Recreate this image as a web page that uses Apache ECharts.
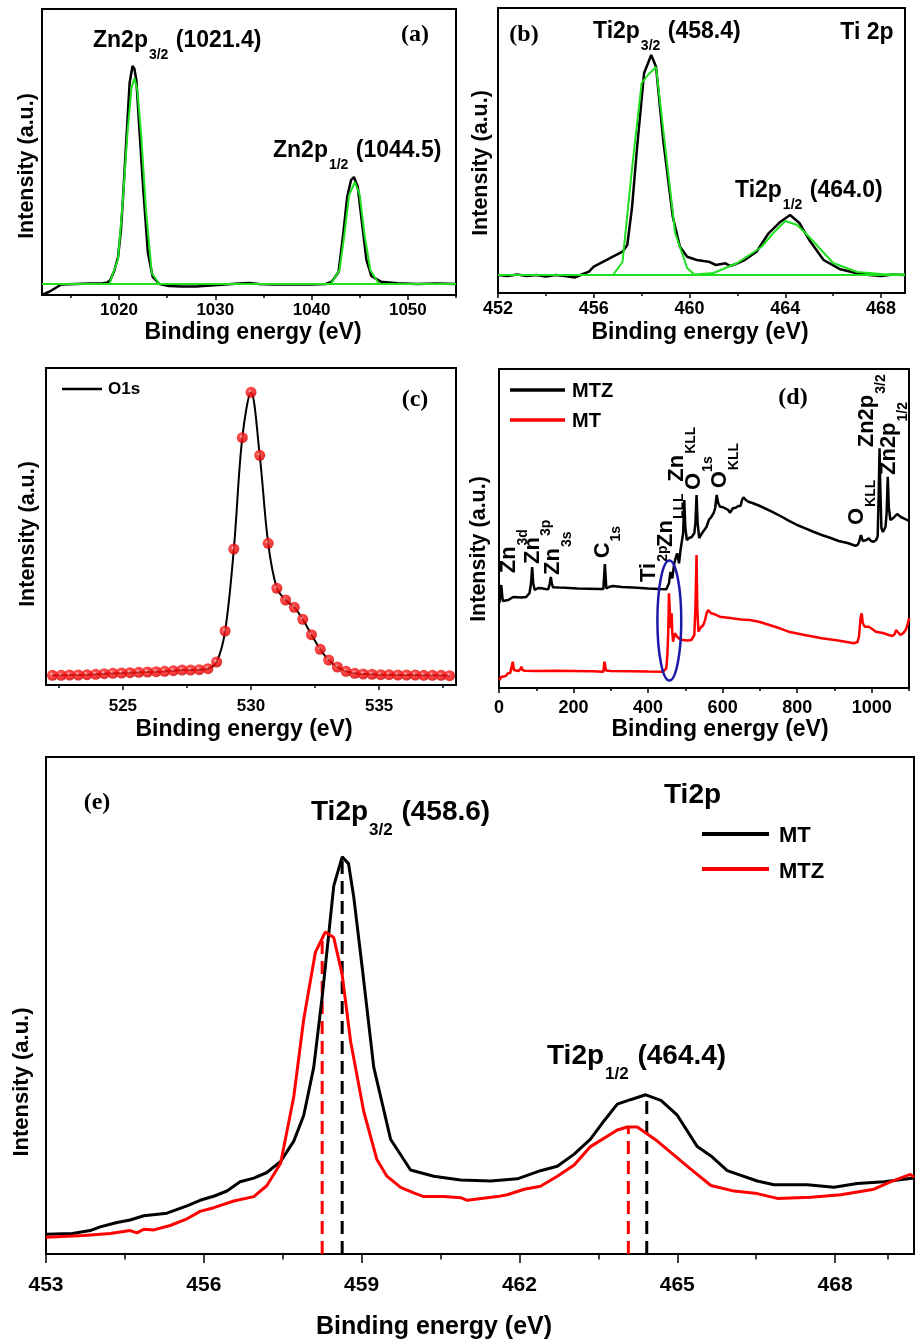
<!DOCTYPE html>
<html><head><meta charset="utf-8">
<script src="https://cdn.jsdelivr.net/npm/echarts@6.0.0/dist/echarts.min.js"></script>
<style>html,body{margin:0;padding:0;background:#fff}#chart{width:917px;height:1341px}</style>
</head><body><div id="chart"></div>
<script>
// ---------------- DATA ----------------
// (a) Zn 2p
const aMeasured = [[1012.0,0],[1012.8,3.5],[1014.0,10.5],[1015.5,11],[1017,11.5],[1018.2,11.5],[1018.8,12.5],[1019.1,15],[1019.5,24],[1019.9,38],[1020.2,65],[1020.4,95],[1020.8,162],[1021.1,212],[1021.4,229],[1021.6,226],[1021.8,215],[1022.1,168],[1022.5,108],[1023.0,42],[1023.5,18],[1024.2,11],[1025.2,9],[1026.5,8.5],[1028,8.5],[1029.5,9.5],[1031,10.5],[1032.5,11.5],[1033.5,12],[1034.5,11],[1036,10.5],[1038,10.5],[1040,10.5],[1041.5,11],[1042.1,13.3],[1042.8,23],[1043.3,62],[1043.7,98],[1044.1,115],[1044.4,118],[1044.8,108],[1045.2,75],[1045.7,35],[1046.2,19],[1047.2,13.3],[1048.9,11.7],[1051,11],[1053,11.5],[1055,11]];
const aFit1 = [[1019.0,11],[1019.9,36],[1020.4,95],[1020.9,165],[1021.3,207],[1021.6,217],[1021.9,205],[1022.3,160],[1022.8,85],[1023.4,22],[1024.2,11]];
const aFit2 = [[1042.0,11],[1042.9,25],[1043.4,60],[1043.9,100],[1044.5,113],[1045.0,100],[1045.5,60],[1046.1,25],[1047.0,11]];
const aBase = [[1012,11],[1055,11]];
const aTickLabels = [1020,1030,1040,1050];
const aMinorTicks = [1015,1025,1035,1045,1055];

// (b) Ti 2p
const bMeasured = [[452.0,18],[452.4,17],[452.8,18.5],[453.2,17],[453.6,18],[454.0,16.5],[454.4,18],[454.8,17],[455.2,15.5],[455.5,18.5],[455.8,21.3],[456.0,26.3],[456.4,31.3],[456.8,36.3],[457.2,41.3],[457.4,48],[457.6,86],[457.8,143],[458.1,219.7],[458.4,238],[458.6,226.3],[458.9,153],[459.3,76.3],[459.6,46.3],[459.9,36.3],[460.3,33],[460.8,31.3],[461.1,28],[461.5,29.7],[461.7,27],[462.0,29.7],[462.3,33],[462.8,41.3],[463.3,59.7],[463.8,71.3],[464.2,78],[464.6,69.7],[465.0,53],[465.6,33],[466.3,23.7],[467.0,19.7],[467.5,18],[468.0,17],[468.5,18.5],[469.0,18]];
const bFit1 = [[456.8,18],[457.2,31],[457.6,125],[458.0,210],[458.3,219],[458.6,226],[459.0,143],[459.4,60],[459.9,25],[460.2,18.5]];
const bFit2 = [[460.2,18.5],[461.0,20],[462.0,30],[463.0,46],[463.5,60],[464.0,72],[464.5,68],[465.0,56],[466.0,30],[467.0,21],[468.0,19],[469.0,18.5]];
const bBase = [[452,18],[469,18]];
const bTickLabels = [452,456,460,464,468];
const bMinorTicks = [454,458,462,466];

// (c) O 1s
const cPoints = [[522.25,9.7],[522.59,9.7],[522.92,10.0],[523.26,10.0],[523.60,10.3],[523.94,10.7],[524.27,11.3],[524.61,11.7],[524.95,12.0],[525.28,12.3],[525.62,12.7],[525.96,13.0],[526.30,13.3],[526.63,13.7],[526.97,14.3],[527.31,15.0],[527.64,15.0],[527.98,15.3],[528.32,16.3],[528.66,23.0],[528.99,54.0],[529.33,136.0],[529.66,247.3],[530.00,292.7],[530.34,229.7],[530.67,141.7],[531.01,96.7],[531.35,85.0],[531.69,77.7],[532.02,65.7],[532.36,50.3],[532.70,35.7],[533.03,25.0],[533.37,18.0],[533.71,13.7],[534.05,11.7],[534.38,11.0],[534.72,10.7],[535.06,10.3],[535.39,10.3],[535.73,10.0],[536.07,10.0],[536.41,10.0],[536.74,9.7],[537.08,9.7],[537.42,9.7],[537.75,9.3]];
const cTickLabels = [525,530,535];
const cMinorTicks = [522.5,527.5,532.5,537.5];

// (d) survey
const dMTZ = [[1,85],[6,103],[10,87],[15,86],[25,88],[38,91],[60,90.5],[73,91],[82,95],[86,105],[89,121],[92,104],[96,98],[105,100],[114,99.7],[125,99],[132,98.7],[136,104],[139,111],[142,104],[145,100.7],[160,100.5],[177,100.3],[210,99.5],[239,99.3],[270,99],[280,99],[284,124],[288,99.5],[295,101],[306,102],[330,101],[360,100.5],[400,99.5],[430,99],[449,98.7],[456,104.7],[460,116],[465,109.7],[470,124],[474,130],[478,134.7],[483,124.7],[487,138],[494,154.7],[497,188],[500,160],[504,148],[510,150],[517,151],[524,154.7],[527,165],[530,193],[533,165],[537,150],[545,155],[550,157],[557,161.3],[563,168],[570,171.3],[576,175],[580,180],[584,193],[588,185],[593,181.3],[600,181],[607,179.7],[615,178],[620,175.3],[628,180],[634,180],[642,182],[648,182],[652,188],[656,190.7],[662,188],[669,186.3],[680,185],[700,182],[732,176.3],[760,171],[777,167.3],[800,163],[822,159.7],[845,156],[866,153],[890,150],[911,147],[935,145],[956,142.3],[962,143],[966,146],[971,153],[976,147],[981,145.3],[986,148],[992,149.7],[998,147],[1005,146.3],[1012,148],[1016,152],[1019,200],[1021,239.7],[1023,200],[1026,160],[1030,156],[1037,161.3],[1040,175],[1043,211.3],[1046,180],[1050,168],[1058,170],[1068,174],[1078,171],[1086,169.7],[1095,168],[1100,167]];
const dMT = [[1,8],[6,11],[11,13],[18,12],[24,14.7],[30,15],[35,16],[37,26.3],[40,18],[44,16.3],[52,17],[58,19],[60,21.3],[63,18],[69,17.3],[100,17],[150,17.3],[200,17],[250,16.7],[280,16.3],[283,26.3],[287,17.5],[300,17],[350,16.8],[400,16.5],[440,16.3],[449,19.7],[452,35],[454,55],[456,94.7],[458,80],[460,64.7],[461.5,60],[463,74.7],[465,55],[467,46.3],[470,52],[472,54.7],[478,51.3],[485,49],[494,48],[505,47.5],[516,48],[521,49],[524,53],[527,80],[530,133],[532,80],[535,56.3],[540,60],[548,63],[553,68],[557,74.7],[561,78],[564,79.7],[568,75],[573,73],[580,73.5],[592,71.3],[620,70],[650,68.5],[673,68],[700,66],[753,59.7],[777,56.3],[820,53],[866,49.7],[910,47.5],[952,44.7],[962,46],[966,52],[970,70],[973,74.7],[976,65],[981,61.3],[986,62],[992,61.3],[997,59.7],[1005,58],[1011,56.3],[1030,55],[1046,53],[1055,52],[1062,54],[1065,58],[1070,56],[1077,53],[1085,55],[1091,58],[1095,62],[1099,68],[1100,70]];
const dTickLabels = [0,200,400,600,800,1000];
const dMinorTicks = [100,300,500,700,900,1100];
const dPeakLabels = [
  ['Zn','3d',31,114.7],['Zn','3p',94,124],['Zn','3s',148,113],['C','1s',282,129.7],
  ['Ti','2p',407,106],['Zn','LLL',451,141],['Zn','KLL',481,206.3],['O','1s',527,198],
  ['O','KLL',597,199.7],['O','KLL',964,163],['Zn2p','3/2',992.5,240.7],['Zn2p','1/2',1050,213]
];
const dEllipse = [457, 67.5, 32, 60]; // centre E, centre I, half-width (eV), half-height (a.u.)

// (e) Ti 2p comparison
const eMT = [[453.0,19.7],[453.5,20.5],[453.84,23.4],[454.03,27.1],[454.35,31.5],[454.6,34],[454.86,38.2],[455.3,40.8],[455.68,48.2],[455.93,53.7],[456.2,58],[456.44,63],[456.69,72.2],[456.95,75.9],[457.2,81.5],[457.46,92.6],[457.71,112.9],[457.9,138.8],[458.09,186.9],[458.25,257.2],[458.47,368.2],[458.63,397.1],[458.75,390.4],[458.85,357.1],[459.01,286.8],[459.23,186.9],[459.55,114.8],[459.93,84],[460.37,77.8],[460.88,74.1],[461.45,73],[461.96,75.2],[462.4,83.3],[462.72,87.7],[463.04,99.9],[463.35,114.8],[463.61,133.3],[463.86,149.9],[464.11,154.3],[464.4,159.2],[464.69,153.6],[465.0,138.8],[465.38,107.4],[465.64,98.1],[465.95,83.3],[466.52,73],[466.84,69.2],[467.47,69.2],[467.98,66.7],[468.42,70.4],[468.93,72.2],[469.5,75.9]];
const eMTZ = [[453.0,16.7],[453.72,18.6],[454.22,20.4],[454.6,23.4],[454.73,21.1],[454.86,24.8],[455.05,24.1],[455.36,28.5],[455.68,35.2],[455.93,42.6],[456.19,46.3],[456.57,53],[456.95,57.4],[457.2,68.5],[457.46,90.7],[457.71,157.3],[457.9,235],[458.12,301.6],[458.31,322],[458.47,316.4],[458.63,279.4],[458.79,212.8],[459.04,142.5],[459.29,94.4],[459.48,77.8],[459.74,66.7],[459.99,61.1],[460.18,57.4],[460.56,57.4],[460.88,56.3],[461.01,53.7],[461.58,57.4],[461.77,59.3],[462.09,64.8],[462.4,67.8],[462.72,77.8],[463.04,88.9],[463.35,107.4],[463.86,124],[464.05,127],[464.24,127],[464.62,112.9],[464.87,101.8],[465.25,85.2],[465.64,68.5],[466.08,62.9],[466.52,60.4],[466.9,55.6],[467.54,56.7],[468.11,59.3],[468.74,64.8],[469.05,72.2],[469.43,79.6],[469.5,76.6]];
const ePeaksMT = [[458.63,397],[464.42,159]];
const ePeaksMTZ = [[458.25,318],[464.07,127]];
const eTickLabels = [453,456,459,462,465,468];
const eMinorTicks = [454.5,457.5,460.5,463.5,466.5,469];

// ---------------- CHART ----------------
const FF = '"Liberation Sans", Arial, Helvetica, sans-serif';
const SF = '"Liberation Serif", "Times New Roman", serif';
const GREEN = '#1ee01e', RED = '#ff0000', BLACK = '#000000';

const panels = [
  {grid:{left:42, top:9, width:414, height:286}, x:[1012,1055], yMax:286, labels:aTickLabels, minor:aMinorTicks, fs:17, margin:7, tl:5, tm:3},
  {grid:{left:498, top:8, width:407, height:285}, x:[452,469], yMax:285, labels:bTickLabels, minor:bMinorTicks, fs:18, margin:7, tl:5, tm:3},
  {grid:{left:46, top:368, width:410, height:317}, x:[522,538], yMax:317, labels:cTickLabels, minor:cMinorTicks, fs:17, margin:13, tl:5, tm:3},
  {grid:{left:499, top:369, width:410, height:319}, x:[0,1100], yMax:319, labels:dTickLabels, minor:dMinorTicks, fs:18, margin:11, tl:5, tm:3},
  {grid:{left:46, top:757, width:868, height:497}, x:[453,469.5], yMax:497, labels:eTickLabels, minor:eMinorTicks, fs:21, margin:21, tl:9, tm:5.5}
];

const grid = panels.map(p => Object.assign({show:true, borderColor:BLACK, borderWidth:2, backgroundColor:'transparent', containLabel:false}, p.grid));
const xAxis = [];
panels.forEach((p,i) => xAxis.push({
  gridIndex:i, type:'value', min:p.x[0], max:p.x[1], position:'bottom',
  axisLine:{show:true, onZero:false, lineStyle:{color:BLACK, width:2}},
  axisTick:{show:true, inside:false, length:p.tl, customValues:p.labels, lineStyle:{color:BLACK, width:1.5}},
  axisLabel:{show:true, customValues:p.labels, fontSize:p.fs, fontWeight:'bold', fontFamily:FF, color:BLACK, margin:p.margin,
    formatter:function(v){ return String(v); }},
  splitLine:{show:false}, minorTick:{show:false}
}));
panels.forEach((p,i) => xAxis.push({
  gridIndex:i, type:'value', min:p.x[0], max:p.x[1], position:'bottom',
  axisLine:{show:false, onZero:false},
  axisTick:{show:true, inside:false, length:p.tm, customValues:p.minor, lineStyle:{color:BLACK, width:1.5}},
  axisLabel:{show:false}, splitLine:{show:false}
}));
const yAxis = panels.map((p,i) => ({gridIndex:i, type:'value', min:0, max:p.yMax, show:false, splitLine:{show:false}}));

function line(i, data, color, width, extra) {
  return Object.assign({type:'line', xAxisIndex:i, yAxisIndex:i, data:data, symbol:'none', showSymbol:false,
    lineStyle:{color:color, width:width}, itemStyle:{color:color}, silent:true, animation:false, clip:true, z:2}, extra||{});
}
function vline(i, pk, color) {
  return line(i, [[pk[0],0],[pk[0],pk[1]]], color, 3, {lineStyle:{color:color, width:3, type:[13,7]}, z:1});
}

const series = [
  line(0, aMeasured, BLACK, 2.5),
  line(0, aBase, GREEN, 2, {z:3}),
  line(0, aFit1, GREEN, 2, {z:3}),
  line(0, aFit2, GREEN, 2, {z:3}),
  line(1, bMeasured, BLACK, 2.5),
  line(1, bBase, GREEN, 2, {z:3}),
  line(1, bFit1, GREEN, 2, {z:3}),
  line(1, bFit2, GREEN, 2, {z:3}),
  line(2, cPoints, BLACK, 2, {smooth:0.35, name:'O1s'}),
  {type:'scatter', xAxisIndex:2, yAxisIndex:2, data:cPoints, symbol:'circle', symbolSize:11, silent:true, animation:false, z:4,
    itemStyle:{color:{type:'radial', x:0.4, y:0.38, r:0.65, colorStops:[{offset:0,color:'#ffd8d8'},{offset:0.22,color:'#ff2a2a'},{offset:0.75,color:'#ee0000'},{offset:1,color:'#b80000'}]}}},
  line(3, dMTZ, BLACK, 2.5, {name:'MTZ'}),
  line(3, dMT, RED, 2.5, {name:'MT'}),
  vline(4, ePeaksMT[0], BLACK), vline(4, ePeaksMT[1], BLACK),
  vline(4, ePeaksMTZ[0], RED), vline(4, ePeaksMTZ[1], RED),
  line(4, eMT, BLACK, 3, {name:'MT'}),
  line(4, eMTZ, RED, 3, {name:'MTZ'})
];

const chart = echarts.init(document.getElementById('chart'), null, {renderer:'canvas'});
chart.setOption({animation:false, backgroundColor:'#ffffff', textStyle:{fontFamily:FF}, grid, xAxis, yAxis, series});

// ---------------- ANNOTATIONS ----------------
const G = [];
function txt(x, y, text, size, opts) {
  opts = opts || {};
  G.push({type:'text', x:x, y:y, rotation:opts.rot||0, z:100, silent:true,
    style:{text:text, fill:BLACK, font:'bold '+size+'px '+(opts.family||FF),
      align:opts.align||'center', verticalAlign:'middle', textAlign:opts.align||'center', textVerticalAlign:'middle'}});
}
function richTxt(x, yc, main, sub, tail, fs, sfs, rot) {
  const L = Math.round(fs*1.12);
  const pad = Math.round(fs*0.82);
  const rich = {
    m:{fontSize:fs, fontWeight:'bold', fontFamily:FF, lineHeight:L, verticalAlign:'top', fill:BLACK, color:BLACK},
    s:{fontSize:sfs, fontWeight:'bold', fontFamily:FF, lineHeight:sfs, padding:[pad,1,0,1], verticalAlign:'top', fill:BLACK, color:BLACK}
  };
  const t = '{m|'+main+'}{s|'+sub+'}' + (tail ? '{m|'+tail+'}' : '');
  const el = {type:'text', z:100, silent:true, rotation:rot||0,
    style:{text:t, rich:rich, align:'left', verticalAlign:'top', textAlign:'left', textVerticalAlign:'top'}};
  if (rot) { el.x = x - L/2; el.y = yc; } else { el.x = x; el.y = yc - L/2; }
  G.push(el);
}
function seg(x1,y1,x2,y2,color,w){ G.push({type:'line', z:100, silent:true, shape:{x1,y1,x2,y2}, style:{stroke:color, lineWidth:w}}); }

// panel letters
txt(415,35,'(a)',24,{family:SF}); txt(524,35,'(b)',24,{family:SF});
txt(415,400,'(c)',24,{family:SF}); txt(793,398,'(d)',24,{family:SF});
txt(97,803,'(e)',24,{family:SF});
// axis titles
txt(253,333,'Binding energy (eV)',23); txt(700,333,'Binding energy (eV)',23);
txt(244,730,'Binding energy (eV)',23); txt(720,730,'Binding energy (eV)',23);
txt(434,1327,'Binding energy (eV)',25);
const R = Math.PI/2;
txt(27.5,166,'Intensity (a.u.)',21.5,{rot:R}); txt(481,163,'Intensity (a.u.)',21.5,{rot:R});
txt(28,534,'Intensity (a.u.)',21.5,{rot:R}); txt(479,549,'Intensity (a.u.)',21.5,{rot:R});
txt(22,1082,'Intensity (a.u.)',22,{rot:R});
// peak annotations
richTxt(93,42,'Zn2p','3/2',' (1021.4)',23,14);
richTxt(273,152,'Zn2p','1/2',' (1044.5)',23,14);
richTxt(593,33,'Ti2p','3/2',' (458.4)',23,14);
richTxt(735,192,'Ti2p','1/2',' (464.0)',23,14);
txt(867,33,'Ti 2p',23);
richTxt(311,814,'Ti2p','3/2',' (458.6)',28,17);
richTxt(547,1058,'Ti2p','1/2',' (464.4)',28,17);
txt(664,795,'Ti2p',28,{align:'left'});
// legends
seg(62,389,102,389,BLACK,2.5); txt(108,389,'O1s',17,{align:'left'});
seg(510,390,565,390,BLACK,3.5); txt(572,391,'MTZ',20,{align:'left'});
seg(510,420,565,420,RED,3.5); txt(572,421,'MT',20,{align:'left'});
seg(702,834,769,834,BLACK,4); txt(779,836,'MT',22,{align:'left'});
seg(702,869,769,869,RED,4); txt(779,872,'MTZ',22,{align:'left'});

// (d) rotated peak labels anchored at data coordinates
dPeakLabels.forEach(l => {
  const p = chart.convertToPixel({xAxisIndex:3, yAxisIndex:3}, [l[2], l[3]]);
  richTxt(p[0], p[1], l[0], l[1], '', 22, 14, R);
});
// (d) ellipse around Ti2p region
(function(){
  const c = chart.convertToPixel({xAxisIndex:3, yAxisIndex:3}, [dEllipse[0], dEllipse[1]]);
  const e = chart.convertToPixel({xAxisIndex:3, yAxisIndex:3}, [dEllipse[0]+dEllipse[2], dEllipse[1]+dEllipse[3]]);
  G.push({type:'ellipse', z:100, silent:true, shape:{cx:c[0], cy:c[1], rx:Math.abs(e[0]-c[0]), ry:Math.abs(c[1]-e[1])},
    style:{fill:null, stroke:'#1a1aa8', lineWidth:2.5}});
})();

chart.setOption({graphic:{elements:G}});
</script></body></html>
